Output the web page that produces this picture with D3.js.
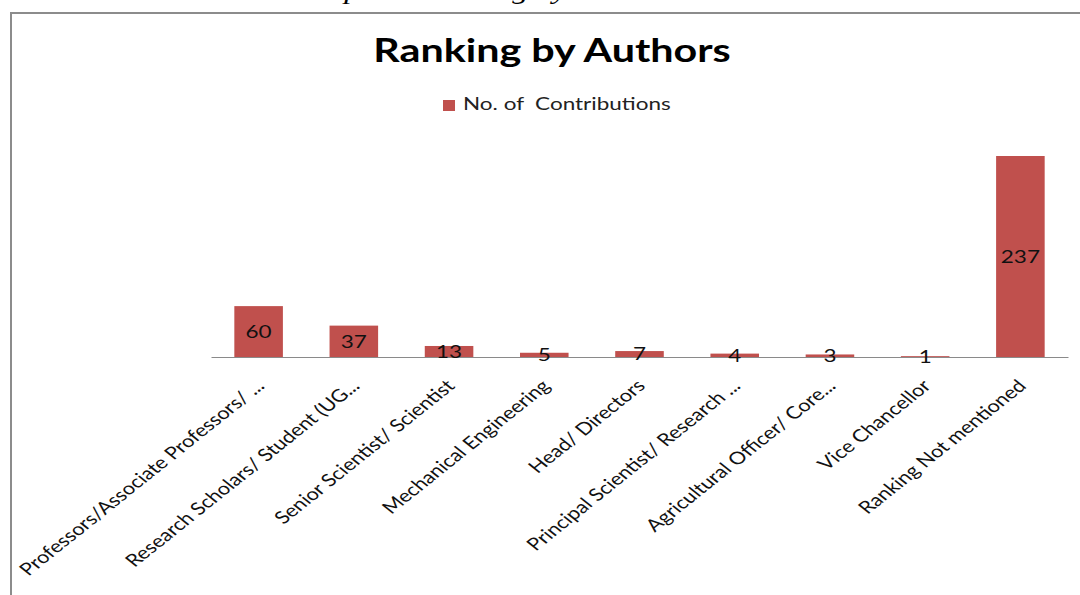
<!DOCTYPE html>
<html><head><meta charset="utf-8">
<script src="https://cdn.jsdelivr.net/npm/d3@7"></script>
<style>body{margin:0;background:#fff} svg{display:block}</style>
</head><body><svg id="c" width="1080" height="595"></svg>
<script>
const categories = [
  "Professors/Associate Professors/ ...",
  "Research Scholars/ Student (UG...",
  "Senior Scientist/ Scientist",
  "Mechanical Engineering",
  "Head/ Directors",
  "Principal Scientist/ Research ...",
  "Agricultural Officer/ Core...",
  "Vice Chancellor",
  "Ranking Not mentioned"
];
const contributions = [60, 37, 13, 5, 7, 4, 3, 1, 237];
const seriesName = "No. of  Contributions";
const chartTitle = "Ranking by Authors";
const captionText = "Graph 4: Ranking by Authors";

const S = 1.25; // horizontal stretch of the original picture
const svg = d3.select("#c");
const FONT = "Lato, 'Open Sans', sans-serif";

// clipped caption above the chart frame (only descenders show)
svg.append("text")
  .attr("transform", `translate(292,-1) scale(${S},1)`)
  .attr("font-family", "'Liberation Serif', serif")
  .attr("font-style", "italic")
  .attr("font-size", 26)
  .attr("fill", "#000")
  .text(captionText);

// frame
svg.append("path")
  .attr("d", "M11,595V13H1080")
  .attr("fill", "none")
  .attr("stroke", "#8c8c8c")
  .attr("stroke-width", 2);

// title
svg.append("text")
  .attr("transform", `translate(552,62) scale(${S},1)`)
  .attr("text-anchor", "middle")
  .attr("font-family", FONT)
  .attr("font-weight", "bold")
  .attr("font-size", 33)
  .attr("fill", "#000")
  .text(chartTitle);

// legend
svg.append("rect").attr("x", 443).attr("y", 100).attr("width", 12).attr("height", 11).attr("fill", "#C0504D");
svg.append("text")
  .attr("transform", `translate(463,110) scale(${S},1)`)
  .attr("font-family", FONT)
  .attr("font-size", 18)
  .attr("fill", "#222")
  .style("white-space", "pre")
  .text(seriesName);

const x = d3.scaleBand().domain(categories).range([211, 1068]).paddingInner(0.49).paddingOuter(0.245);
const y = d3.scaleLinear().domain([0, d3.max(contributions)]).range([357, 156]);

const data = categories.map((c, i) => ({c, v: contributions[i]}));

svg.selectAll("rect.bar").data(data).join("rect")
  .attr("class", "bar")
  .attr("x", d => x(d.c))
  .attr("width", x.bandwidth())
  .attr("y", d => y(d.v))
  .attr("height", d => y(0) - y(d.v))
  .attr("fill", "#C0504D");

// axis
const ax = svg.append("g").attr("transform", `translate(0,${y(0)})`)
  .call(d3.axisBottom(x).tickSize(0).tickSizeOuter(0));
ax.select(".domain").attr("stroke", "#8a8a8a").attr("stroke-width", 1);
ax.selectAll(".tick text")
  .attr("x", null).attr("y", null).attr("dy", null)
  .attr("text-anchor", "end")
  .attr("transform", `translate(7,30) scale(${S},1) rotate(-45)`)
  .attr("font-family", FONT)
  .attr("font-size", 17.4)
  .attr("fill", "#111");

// value labels
svg.selectAll("text.val").data(data).join("text")
  .attr("class", "val")
  .attr("transform", d => `translate(${x(d.c) + x.bandwidth() / 2},${(y(d.v) + y(0)) / 2}) scale(${S},1)`)
  .attr("dy", "0.35em")
  .attr("text-anchor", "middle")
  .attr("font-family", FONT)
  .attr("font-size", 18)
  .attr("fill", "#111")
  .text(d => d.v);
</script></body></html>
